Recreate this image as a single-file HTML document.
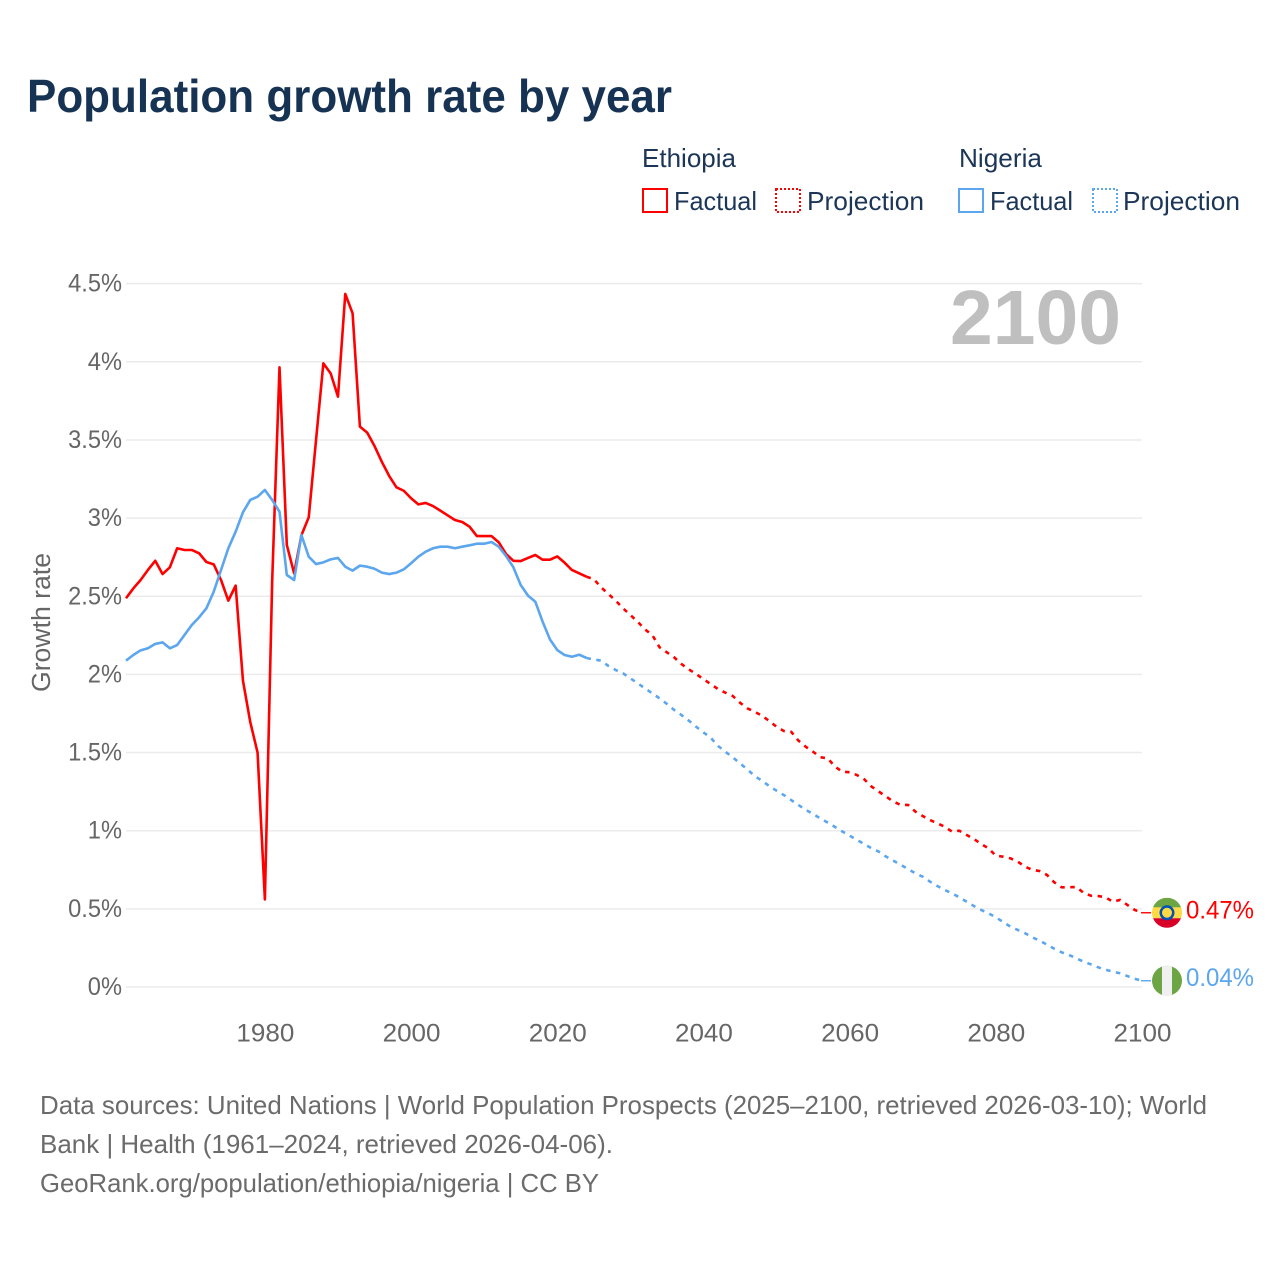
<!DOCTYPE html>
<html lang="en">
<head>
<meta charset="utf-8">
<title>Population growth rate by year</title>
<style>
html,body{margin:0;padding:0;background:#fff;}
body{width:1280px;height:1280px;overflow:hidden;}
svg{display:block;font-family:"Liberation Sans",sans-serif;}
</style>
</head>
<body>
<svg id="chart" xmlns="http://www.w3.org/2000/svg" width="1280" height="1280" viewBox="0 0 1280 1280">
  <defs>
    <clipPath id="flag-clip"><circle cx="0" cy="0" r="15"></circle></clipPath>
  </defs>
  <rect x="0" y="0" width="1280" height="1280" fill="#ffffff"></rect>
  <text x="27" y="112" font-size="46" font-weight="700" fill="#173354" textLength="645" lengthAdjust="spacingAndGlyphs">Population growth rate by year</text>

  <g font-size="26" fill="#1c3658">
    <text x="642" y="167" textLength="94" lengthAdjust="spacingAndGlyphs">Ethiopia</text>
    <text x="959" y="167" textLength="83" lengthAdjust="spacingAndGlyphs">Nigeria</text>
    <g>
      <rect x="643" y="189" width="24" height="23" fill="none" stroke="#ff0000" stroke-width="2"></rect>
      <text x="674" y="210" textLength="83" lengthAdjust="spacingAndGlyphs">Factual</text>
    </g>
    <g>
      <rect x="776" y="189" width="24" height="23" fill="none" stroke="#ff0000" stroke-width="2" stroke-dasharray="2 2"></rect>
      <text x="807" y="210" textLength="117" lengthAdjust="spacingAndGlyphs">Projection</text>
    </g>
    <g>
      <rect x="959" y="189" width="24" height="23" fill="none" stroke="#5ba6ee" stroke-width="2"></rect>
      <text x="990" y="210" textLength="83" lengthAdjust="spacingAndGlyphs">Factual</text>
    </g>
    <g>
      <rect x="1093" y="189" width="24" height="23" fill="none" stroke="#5ba6ee" stroke-width="2" stroke-dasharray="2 2"></rect>
      <text x="1123" y="210" textLength="117" lengthAdjust="spacingAndGlyphs">Projection</text>
    </g>
  </g>

  <g id="grid"></g>
  <text id="year-label" x="1121" y="344" font-size="77" font-weight="700" fill="#bfbfbf" text-anchor="end" textLength="171" lengthAdjust="spacingAndGlyphs">2100</text>
  <g id="y-axis" font-size="25" fill="#666666"></g>
  <g id="x-axis" font-size="25" fill="#666666"></g>
  <text transform="translate(50,622.5) rotate(-90)" font-size="25.5" fill="#666666" text-anchor="middle" textLength="139" lengthAdjust="spacingAndGlyphs">Growth rate</text>
  <g id="series"></g>
  <g id="end-markers"></g>

  <g font-size="26" fill="#6b6b6b">
    <text x="40" y="1114" textLength="1167" lengthAdjust="spacingAndGlyphs">Data sources: United Nations | World Population Prospects (2025–2100, retrieved 2026-03-10); World</text>
    <text x="40" y="1153" textLength="573" lengthAdjust="spacingAndGlyphs">Bank | Health (1961–2024, retrieved 2026-04-06).</text>
    <text x="40" y="1192" textLength="559" lengthAdjust="spacingAndGlyphs">GeoRank.org/population/ethiopia/nigeria | CC BY</text>
  </g>
</svg>

<script>
const factualYears = [1961,1962,1963,1964,1965,1966,1967,1968,1969,1970,1971,1972,1973,1974,1975,1976,1977,1978,1979,1980,1981,1982,1983,1984,1985,1986,1987,1988,1989,1990,1991,1992,1993,1994,1995,1996,1997,1998,1999,2000,2001,2002,2003,2004,2005,2006,2007,2008,2009,2010,2011,2012,2013,2014,2015,2016,2017,2018,2019,2020,2021,2022,2023,2024];
const projectionYears = [2024,2025,2026,2027,2028,2029,2030,2031,2032,2033,2034,2035,2036,2037,2038,2039,2040,2041,2042,2043,2044,2045,2046,2047,2048,2049,2050,2051,2052,2053,2054,2055,2056,2057,2058,2059,2060,2061,2062,2063,2064,2065,2066,2067,2068,2069,2070,2071,2072,2073,2074,2075,2076,2077,2078,2079,2080,2081,2082,2083,2084,2085,2086,2087,2088,2089,2090,2091,2092,2093,2094,2095,2096,2097,2098,2099,2100];
const ethiopiaFactual = [2.487,2.55,2.604,2.668,2.727,2.642,2.685,2.807,2.796,2.796,2.775,2.719,2.704,2.604,2.472,2.568,1.96,1.695,1.5,0.56,2.6,3.965,2.828,2.647,2.89,3.005,3.5,3.99,3.926,3.777,4.434,4.31,3.585,3.547,3.461,3.36,3.27,3.197,3.175,3.127,3.088,3.097,3.077,3.048,3.018,2.988,2.975,2.945,2.885,2.885,2.885,2.845,2.77,2.727,2.725,2.745,2.764,2.734,2.734,2.755,2.715,2.668,2.647,2.625];
const nigeriaFactual = [2.088,2.124,2.154,2.167,2.195,2.205,2.167,2.188,2.252,2.316,2.365,2.423,2.529,2.668,2.807,2.913,3.037,3.116,3.137,3.18,3.116,3.041,2.636,2.604,2.892,2.753,2.706,2.717,2.736,2.745,2.689,2.664,2.696,2.689,2.676,2.651,2.642,2.651,2.672,2.711,2.753,2.785,2.807,2.817,2.817,2.807,2.817,2.826,2.836,2.836,2.847,2.817,2.757,2.685,2.572,2.504,2.465,2.337,2.224,2.156,2.124,2.113,2.126,2.105];
const ethiopiaProjection = [2.625,2.61,2.557,2.514,2.472,2.423,2.38,2.337,2.288,2.252,2.173,2.141,2.109,2.066,2.032,2.002,1.97,1.938,1.906,1.883,1.862,1.819,1.783,1.761,1.736,1.702,1.665,1.638,1.633,1.576,1.537,1.505,1.47,1.463,1.41,1.377,1.374,1.356,1.329,1.282,1.25,1.218,1.186,1.165,1.165,1.122,1.094,1.068,1.047,1.026,0.994,1.0,0.973,0.947,0.915,0.887,0.84,0.834,0.823,0.802,0.77,0.749,0.742,0.717,0.67,0.638,0.638,0.64,0.603,0.584,0.582,0.574,0.546,0.557,0.525,0.493,0.475];
const nigeriaProjection = [2.105,2.096,2.088,2.054,2.028,2.007,1.975,1.943,1.911,1.879,1.847,1.811,1.772,1.74,1.704,1.665,1.629,1.595,1.542,1.505,1.47,1.431,1.393,1.35,1.32,1.286,1.256,1.228,1.196,1.164,1.134,1.107,1.078,1.052,1.024,0.995,0.968,0.941,0.915,0.887,0.866,0.834,0.808,0.781,0.755,0.727,0.706,0.674,0.646,0.621,0.599,0.574,0.546,0.518,0.493,0.471,0.446,0.416,0.386,0.365,0.344,0.318,0.296,0.271,0.245,0.222,0.205,0.184,0.162,0.145,0.126,0.111,0.098,0.088,0.07,0.053,0.04];
const yTickValues = [0,0.5,1,1.5,2,2.5,3,3.5,4,4.5];
const yTickLabels = ['0%','0.5%','1%','1.5%','2%','2.5%','3%','3.5%','4%','4.5%'];
const xTickValues = [1980,2000,2020,2040,2060,2080,2100];
const xTickLabels = ['1980','2000','2020','2040','2060','2080','2100'];
const endValueLabels = ['0.47%','0.04%'];

const NS = 'http://www.w3.org/2000/svg';
const ETHIOPIA_COLOR = '#ff0000';
const NIGERIA_COLOR = '#5ba6ee';
const plotLeft = 126, plotRight = 1142, plotBottom = 987;
const xDomain = [1961, 2100];
const pxPerUnit = 156.3;

function xScale(year) {
  return plotLeft + (year - xDomain[0]) * (plotRight - plotLeft) / (xDomain[1] - xDomain[0]);
}
function yScale(value) {
  return plotBottom - value * pxPerUnit;
}
function shape(tag, attrs, parent) {
  const node = document.createElementNS(NS, tag);
  for (const key in attrs) node.setAttribute(key, attrs[key]);
  parent.appendChild(node);
  return node;
}
function linePath(years, values) {
  return years.map(function (yr, i) {
    return (i ? 'L' : 'M') + xScale(yr).toFixed(2) + ' ' + yScale(values[i]).toFixed(2);
  }).join(' ');
}

const gridGroup = document.getElementById('grid');
const yAxisGroup = document.getElementById('y-axis');
const xAxisGroup = document.getElementById('x-axis');
const seriesGroup = document.getElementById('series');
const markerGroup = document.getElementById('end-markers');

yTickValues.forEach(function (tick, i) {
  const rule = shape('line', {x1: plotLeft, x2: plotRight, y1: yScale(tick), y2: yScale(tick), stroke: '#ebebeb', 'stroke-width': 1.5}, gridGroup);
  
  
  const label = shape('text', {x: 122, y: yScale(tick) + 8, 'text-anchor': 'end'}, yAxisGroup);
  label.textContent = yTickLabels[i];
  
  
  label.setAttribute('textLength', (label.getComputedTextLength() * 0.945).toFixed(1));
  label.setAttribute('lengthAdjust', 'spacingAndGlyphs');
});

xTickValues.forEach(function (tick, i) {
  const label = shape('text', {x: xScale(tick) + 0.5, y: 1041.5, 'text-anchor': 'middle'}, xAxisGroup);
  label.textContent = xTickLabels[i];
  
  
  label.setAttribute('textLength', (label.getComputedTextLength() * 1.04).toFixed(1));
  label.setAttribute('lengthAdjust', 'spacingAndGlyphs');
});

const lineBase = {fill: 'none', 'stroke-width': 2.6, 'stroke-linejoin': 'round'};
function drawLine(years, values, color, dashed) {
  const attrs = Object.assign({}, lineBase, {d: linePath(years, values), stroke: color});
  if (dashed) attrs['stroke-dasharray'] = '4.5 5.5';
  return shape('path', attrs, seriesGroup);
}

const ethiopiaFactualLine = drawLine(factualYears, ethiopiaFactual, ETHIOPIA_COLOR, false);


const ethiopiaProjectionLine = drawLine(projectionYears, ethiopiaProjection, ETHIOPIA_COLOR, true);


const nigeriaFactualLine = drawLine(factualYears, nigeriaFactual, NIGERIA_COLOR, false);


const nigeriaProjectionLine = drawLine(projectionYears, nigeriaProjection, NIGERIA_COLOR, true);



function drawEnd(values, color, labelText) {
  const y = yScale(values[values.length - 1]);
  const tail = shape('line', {x1: plotRight - 1, x2: 1151, y1: y, y2: y, stroke: color, 'stroke-width': 1.4}, markerGroup);
  
  
  const label = shape('text', {x: 1186, y: y + 5.5, 'font-size': 25, fill: color, textLength: 68, lengthAdjust: 'spacingAndGlyphs'}, markerGroup);
  label.textContent = labelText;
  
  
  return shape('g', {transform: 'translate(1167,' + y.toFixed(2) + ')', 'clip-path': 'url(#flag-clip)'}, markerGroup);
}

const ethiopiaFlag = drawEnd(ethiopiaProjection, ETHIOPIA_COLOR, endValueLabels[0]);


shape('rect', {x: -15, y: -15, width: 30, height: 10, fill: '#6da544'}, ethiopiaFlag);
shape('rect', {x: -15, y: -5.5, width: 30, height: 11, fill: '#ffda44'}, ethiopiaFlag);
shape('rect', {x: -15, y: 5.5, width: 30, height: 10, fill: '#d80027'}, ethiopiaFlag);
shape('circle', {cx: 0, cy: 0, r: 7.5, fill: '#0052b4'}, ethiopiaFlag);
shape('circle', {cx: 0, cy: 0, r: 5, fill: '#ffda44'}, ethiopiaFlag);

const nigeriaFlag = drawEnd(nigeriaProjection, NIGERIA_COLOR, endValueLabels[1]);


shape('rect', {x: -15, y: -15, width: 30, height: 30, fill: '#6da544'}, nigeriaFlag);
shape('rect', {x: -5, y: -15, width: 10, height: 30, fill: '#f0f0f0'}, nigeriaFlag);
</script>
</body>
</html>
